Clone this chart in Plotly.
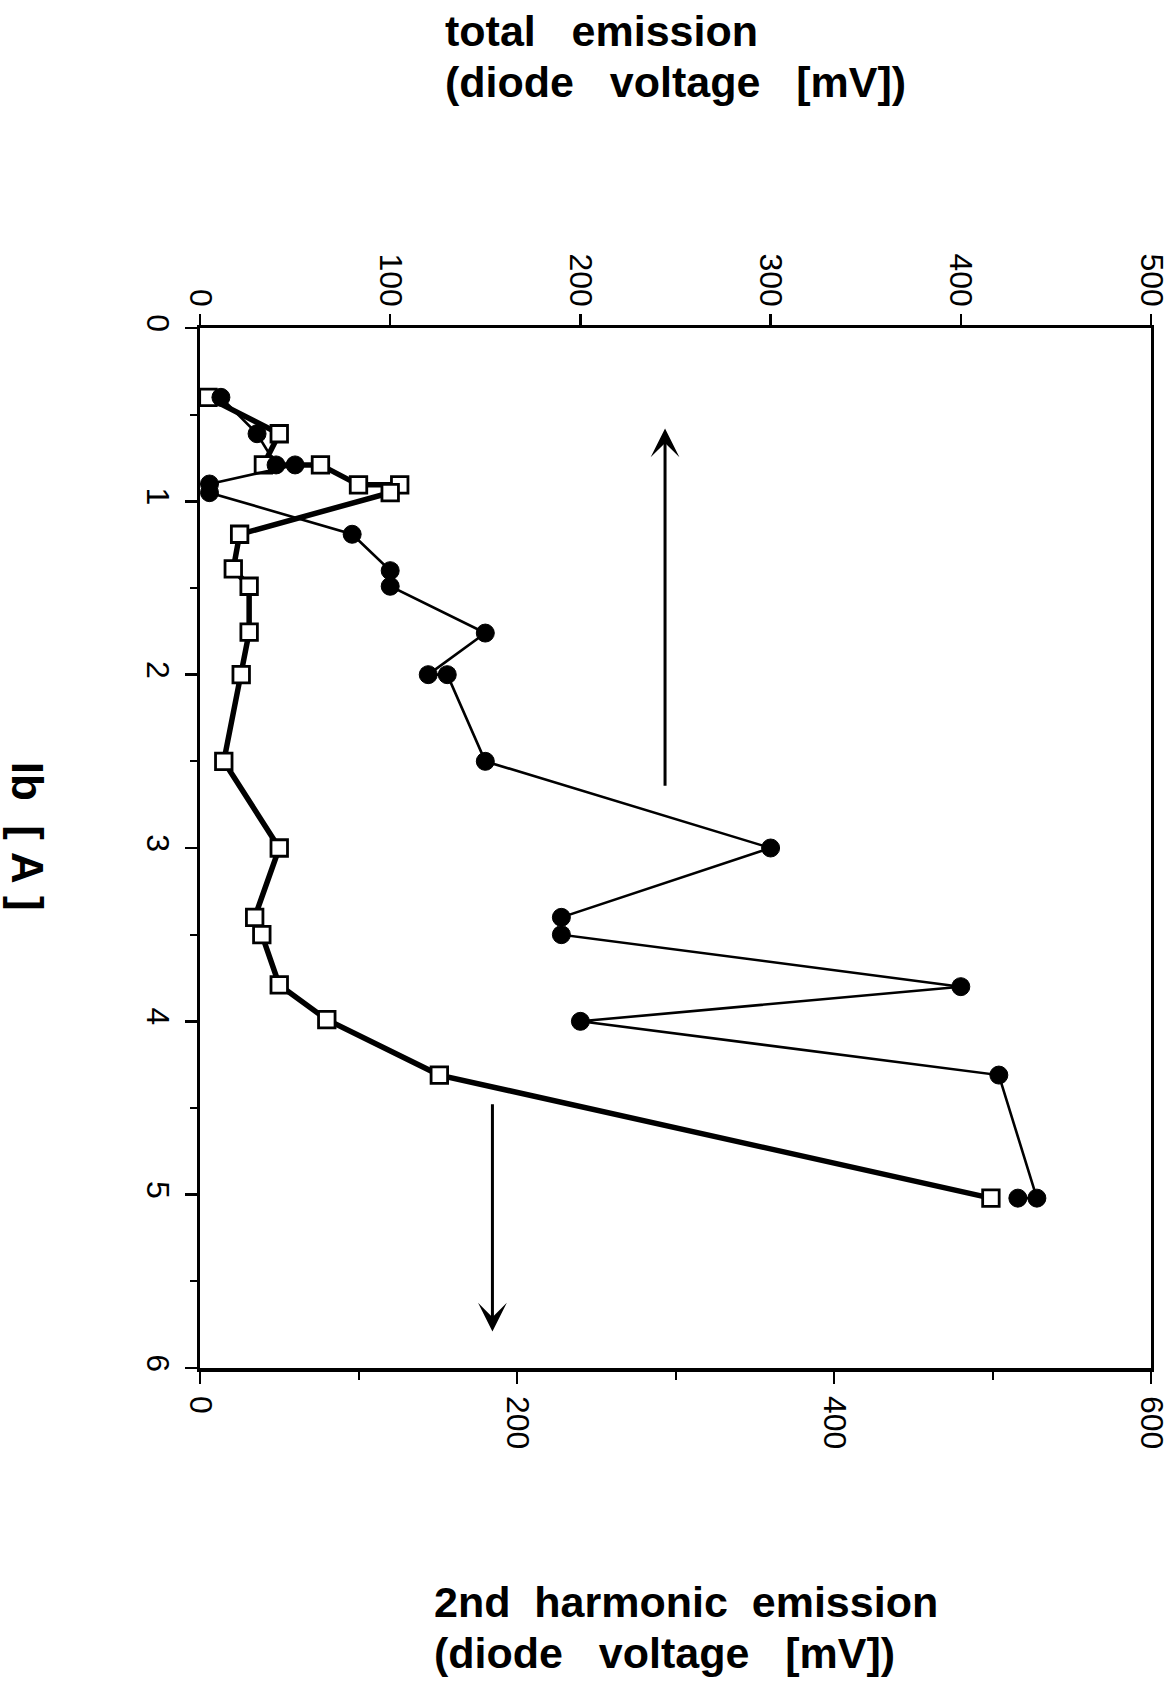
import plotly.graph_objects as go

# ---- data ----
# total emission (filled circles, top axis), Ib [A] vs diode voltage [mV]
ib_total = [0.40, 0.61, 0.79, 0.79, 0.90, 0.95, 1.19, 1.40, 1.49, 1.76, 2.00, 2.00,
            2.50, 3.00, 3.40, 3.50, 3.80, 4.00, 4.31, 5.02, 5.02]
total_mv = [11, 30, 40, 50, 5, 5, 80, 100, 100, 150, 120, 130,
            150, 300, 190, 190, 400, 200, 420, 440, 430]

# 2nd harmonic emission (open squares, bottom axis)
ib_harm = [0.40, 0.61, 0.79, 0.79, 0.905, 0.905, 0.95, 1.19, 1.39, 1.49, 1.755, 2.00,
           2.50, 3.00, 3.40, 3.50, 3.79, 3.99, 4.31, 5.02]
harm_mv = [5, 50, 40, 76, 100, 126, 120, 25, 21, 31, 31, 26,
           15, 50, 34.5, 39, 50, 80, 151, 499]

# arrows (data coordinates of tail -> head)
arrow_total = dict(x=244.5, y_tail=2.65, y_head=0.58)
arrow_harm = dict(x=184.5, y_tail=4.47, y_head=5.79)

ib_ticks = [0, 1, 2, 3, 4, 5, 6]
total_ticks = [0, 100, 200, 300, 400, 500]
harm_ticks = [0, 200, 400, 600]

# ---- layout geometry (page body margin is removed below, so screen == figure px) ----
W, H = 1171, 1682
S_LEFT, S_RIGHT, S_TOP, S_BOTTOM = 199.5, 1151, 327.5, 1368
L, R, T, B = S_LEFT, W - S_RIGHT, S_TOP, H - S_BOTTOM
PW, PH = W - L - R, H - T - B


def px_x(sx):
    return (sx - L) / PW


def px_y(sy):
    return (H - B - sy) / PH


tick_font = dict(family="Liberation Sans, Arial, sans-serif", size=32, color="black")
title_font = dict(family="Liberation Sans, Arial, sans-serif", size=43, color="black", weight="bold")
ib_font = dict(family="Liberation Sans, Arial, sans-serif", size=44, color="black", weight="bold")

fig = go.Figure()

fig.add_trace(go.Scatter(
    x=total_mv, y=ib_total, xaxis="x2", yaxis="y",
    mode="lines+markers",
    line=dict(color="black", width=2.6),
    marker=dict(symbol="circle", size=18, color="black", line=dict(color="black", width=1)),
    showlegend=False, cliponaxis=False,
))

fig.add_trace(go.Scatter(
    x=harm_mv, y=ib_harm, xaxis="x", yaxis="y",
    mode="lines+markers",
    line=dict(color="black", width=5.5),
    marker=dict(symbol="square", size=16.5, color="white", line=dict(color="black", width=2.8)),
    showlegend=False, cliponaxis=False,
))

fig.update_layout(
    width=W, height=H, autosize=False,
    margin=dict(l=L, r=R, t=T, b=B, pad=0, autoexpand=False),
    paper_bgcolor="white", plot_bgcolor="white",
    xaxis=dict(
        range=[0, 600], tickvals=harm_ticks, ticktext=[str(v) for v in harm_ticks],
        side="bottom", showgrid=False, zeroline=False,
        showline=True, linecolor="black", linewidth=3.5,
        ticks="outside", ticklen=12, tickwidth=2.5, tickcolor="black",
        minor=dict(dtick=100, ticks="outside", ticklen=8, tickwidth=2, tickcolor="black", showgrid=False),
        tickangle=90, tickfont=tick_font, ticklabelstandoff=6, ticklabeloverflow="allow",
        fixedrange=True,
    ),
    xaxis2=dict(
        range=[0, 500], tickvals=total_ticks, ticktext=[str(v) for v in total_ticks],
        side="top", overlaying="x", showgrid=False, zeroline=False,
        showline=True, linecolor="black", linewidth=3,
        ticks="outside", ticklen=11, tickwidth=2.5, tickcolor="black",
        tickangle=90, tickfont=tick_font, ticklabelstandoff=-4, ticklabeloverflow="allow",
        fixedrange=True,
    ),
    yaxis=dict(
        range=[6, 0], tickvals=ib_ticks, ticktext=[str(v) for v in ib_ticks],
        showgrid=False, zeroline=False,
        showline=True, linecolor="black", linewidth=3, mirror=True,
        ticks="outside", ticklen=12, tickwidth=2.5, tickcolor="black",
        minor=dict(dtick=0.5, ticks="outside", ticklen=7, tickwidth=2, tickcolor="black", showgrid=False),
        tickangle=90, tickfont=tick_font, ticklabeloverflow="allow", fixedrange=True,
    ),
)

annotations = [
    dict(text="total\u00a0\u00a0\u00a0emission", x=px_x(443), y=px_y(30)),
    dict(text="(diode\u00a0\u00a0\u00a0voltage\u00a0\u00a0\u00a0[mV])", x=px_x(443), y=px_y(81)),
    dict(text="2nd\u00a0\u00a0harmonic\u00a0\u00a0emission", x=px_x(432), y=px_y(1602)),
    dict(text="(diode\u00a0\u00a0\u00a0voltage\u00a0\u00a0\u00a0[mV])", x=px_x(432), y=px_y(1653)),
]
for a in annotations:
    fig.add_annotation(xref="paper", yref="paper", xanchor="left", yanchor="middle",
                       showarrow=False, font=title_font, **a)

fig.add_annotation(text="Ib\u00a0\u00a0[\u00a0A\u00a0]", xref="paper", yref="paper",
                   x=px_x(27), y=px_y(836), xanchor="center", yanchor="middle",
                   textangle=90, showarrow=False, font=ib_font)

# arrows
fig.add_annotation(xref="x2", yref="y", axref="x2", ayref="y",
                   x=arrow_total["x"], y=arrow_total["y_head"],
                   ax=arrow_total["x"], ay=arrow_total["y_tail"],
                   text="", showarrow=True, arrowhead=3, arrowsize=1.6, arrowwidth=3,
                   arrowcolor="black")
fig.add_annotation(xref="x", yref="y", axref="x", ayref="y",
                   x=arrow_harm["x"], y=arrow_harm["y_head"],
                   ax=arrow_harm["x"], ay=arrow_harm["y_tail"],
                   text="", showarrow=True, arrowhead=3, arrowsize=1.6, arrowwidth=3,
                   arrowcolor="black")

fig.write_html(
    "out.html",
    config={"displayModeBar": False, "staticPlot": True},
    post_script="document.body.style.margin='0px';document.body.style.overflow='hidden';",
)
